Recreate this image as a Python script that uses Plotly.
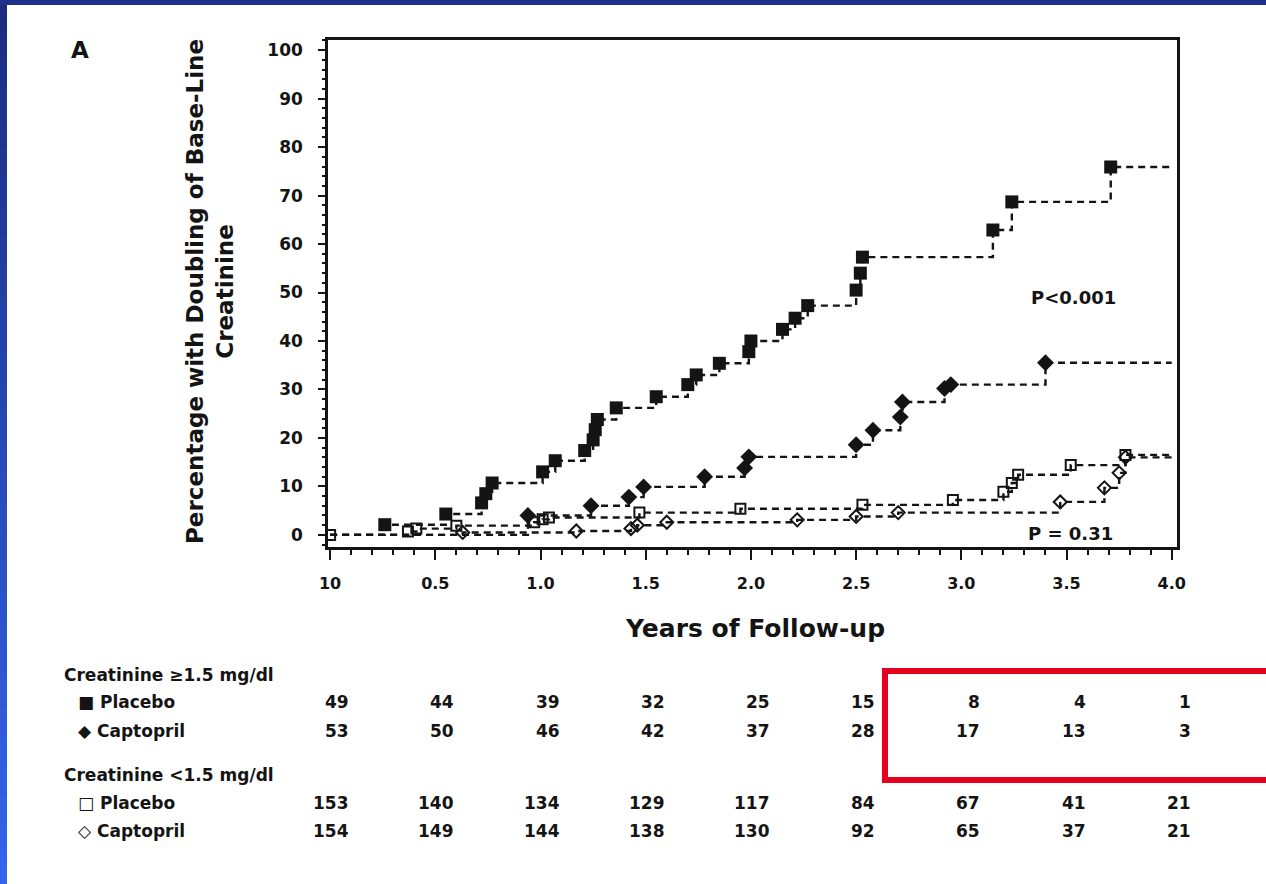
import plotly.graph_objects as go

# ---------------- data ----------------
FOLLOW_UP_END = 4.0

# Creatinine >= 1.5 mg/dl, placebo (filled squares)
ph_years = [0.26, 0.55, 0.72, 0.74, 0.77, 1.01, 1.07, 1.21, 1.25, 1.26, 1.27, 1.36, 1.55,
            1.70, 1.74, 1.85, 1.99, 2.00, 2.15, 2.21, 2.27, 2.50, 2.52, 2.53, 3.15, 3.24, 3.71]
ph_pct = [2.1, 4.3, 6.6, 8.5, 10.7, 13.0, 15.3, 17.4, 19.6, 21.7, 23.8, 26.2, 28.5,
          31.0, 33.0, 35.4, 37.8, 40.0, 42.4, 44.7, 47.3, 50.5, 54.0, 57.3, 62.9, 68.7, 75.9]

# Creatinine >= 1.5 mg/dl, captopril (filled diamonds)
ch_years = [0.94, 1.24, 1.42, 1.49, 1.78, 1.97, 1.99, 2.50, 2.58, 2.71, 2.72, 2.92, 2.95, 3.40]
ch_pct = [4.0, 6.0, 7.8, 9.9, 12.0, 13.8, 16.1, 18.6, 21.6, 24.3, 27.4, 30.2, 31.0, 35.5]

# Creatinine < 1.5 mg/dl, placebo (open squares)
pl_years = [0.00, 0.37, 0.41, 0.60, 0.97, 1.01, 1.04, 1.47, 1.95, 2.53, 2.96, 3.20, 3.24,
            3.27, 3.52, 3.78]
pl_pct = [0.0, 0.7, 1.3, 1.9, 2.6, 3.2, 3.6, 4.6, 5.4, 6.2, 7.2, 8.9, 10.7, 12.4, 14.4, 16.5]

# Creatinine < 1.5 mg/dl, captopril (open diamonds)
cl_years = [0.63, 1.17, 1.43, 1.46, 1.60, 2.22, 2.50, 2.70, 3.47, 3.68, 3.75, 3.78]
cl_pct = [0.5, 0.8, 1.3, 2.0, 2.6, 3.1, 3.8, 4.6, 6.8, 9.7, 12.8, 16.0]

# numbers at risk
risk_years = [0.0, 0.5, 1.0, 1.5, 2.0, 2.5, 3.0, 3.5, 4.0]
risk_ph = [49, 44, 39, 32, 25, 15, 8, 4, 1]
risk_ch = [53, 50, 46, 42, 37, 28, 17, 13, 3]
risk_pl = [153, 140, 134, 129, 117, 84, 67, 41, 21]
risk_cl = [154, 149, 144, 138, 130, 92, 65, 37, 21]

x_tickvals = [0.0, 0.5, 1.0, 1.5, 2.0, 2.5, 3.0, 3.5, 4.0]
x_ticktext = ["10", "0.5", "1.0", "1.5", "2.0", "2.5", "3.0", "3.5", "4.0"]
y_tickvals = [0, 10, 20, 30, 40, 50, 60, 70, 80, 90, 100]

# ---------------- layout helpers ----------------
W, H = 1266, 884
PL_L, PL_R, PL_T, PL_B = 328, 1177, 40, 547
FONT = "DejaVu Sans"
INK = "#141414"


def px(xp):
    return (xp - PL_L) / (PL_R - PL_L)


def py(yp):
    return (PL_B - yp) / (PL_B - PL_T)


def bold(size):
    return dict(family=FONT, size=size, color=INK, weight="bold")


def step_line(xs, ys):
    lx = list(xs)
    ly = list(ys)
    if lx[0] != 0:
        lx = [0.0] + lx
        ly = [0.0] + ly
    return lx + [FOLLOW_UP_END], ly + [ly[-1]]


fig = go.Figure()

series = [
    (ph_years, ph_pct, dict(symbol="square", size=13, color=INK)),
    (ch_years, ch_pct, dict(symbol="diamond", size=13, color=INK)),
    (pl_years, pl_pct, dict(symbol="square-open", size=10, color=INK, line=dict(width=2, color=INK))),
    (cl_years, cl_pct, dict(symbol="diamond-open", size=10, color=INK, line=dict(width=2, color=INK))),
]

for xs, ys, mk in series:
    lx, ly = step_line(xs, ys)
    fig.add_trace(go.Scatter(x=lx, y=ly, mode="lines", line_shape="hv",
                             line=dict(color=INK, width=2.4, dash="7px,5px"),
                             showlegend=False, hoverinfo="skip"))
    fig.add_trace(go.Scatter(x=xs, y=ys, mode="markers", marker=mk, showlegend=False))

annotations = []

# axis titles
annotations.append(dict(text="Percentage with Doubling of Base-Line<br>Creatinine",
                        xref="paper", yref="paper", x=px(210), y=py(292), textangle=-90,
                        showarrow=False, font=bold(23),
                        xanchor="center", yanchor="middle", align="center"))
annotations.append(dict(text="Years of Follow-up", xref="paper", yref="paper",
                        x=px(755), y=py(628), showarrow=False, font=bold(25),
                        xanchor="center", yanchor="middle"))
annotations.append(dict(text="A", xref="paper", yref="paper", x=px(80), y=py(50),
                        showarrow=False, font=bold(23),
                        xanchor="center", yanchor="middle"))
annotations.append(dict(text="P<0.001", xref="paper", yref="paper", x=px(1073), y=py(298),
                        showarrow=False, font=bold(18),
                        xanchor="center", yanchor="middle"))
annotations.append(dict(text="P = 0.31", xref="paper", yref="paper", x=px(1070), y=py(533),
                        showarrow=False, font=bold(18),
                        xanchor="center", yanchor="middle"))

# numbers-at-risk table
row_labels = [
    ("Creatinine ≥1.5 mg/dl", 62, 675),
    ("■ Placebo", 76, 702),
    ("◆ Captopril", 76, 731),
    ("Creatinine <1.5 mg/dl", 62, 775),
    ("□ Placebo", 76, 803),
    ("◇ Captopril", 76, 831),
]
for txt, xl, yl in row_labels:
    annotations.append(dict(text=txt, xref="paper", yref="paper", x=px(xl), y=py(yl),
                            showarrow=False, font=bold(17),
                            xanchor="left", yanchor="middle"))

for vals, yl in [(risk_ph, 702), (risk_ch, 731), (risk_pl, 803), (risk_cl, 831)]:
    for xv, v in zip(risk_years, vals):
        annotations.append(dict(text=str(v), xref="x", yref="paper", x=xv, y=py(yl),
                                xshift=21, showarrow=False, font=bold(17),
                                xanchor="right", yanchor="middle"))

shapes = []
# blue frame (left band with vertical gradient, top band)
n = 30
c_top = (27, 44, 128)
c_bot = (52, 100, 236)
for i in range(n):
    t = i / (n - 1)
    c = tuple(int(round(c_top[k] + (c_bot[k] - c_top[k]) * t)) for k in range(3))
    y0 = H * i / n
    y1 = H * (i + 1) / n + 1
    shapes.append(dict(type="rect", xref="paper", yref="paper",
                       x0=px(0), x1=px(7), y0=py(y0), y1=py(y1),
                       fillcolor="rgb(%d,%d,%d)" % c, line=dict(width=0), layer="above"))
shapes.append(dict(type="rect", xref="paper", yref="paper", x0=px(0), x1=px(W),
                   y0=py(0), y1=py(5), fillcolor="rgb(30,48,140)", line=dict(width=0),
                   layer="above"))
# red highlight box
shapes.append(dict(type="rect", xref="paper", yref="paper", x0=px(885), x1=px(1280),
                   y0=py(671), y1=py(780), line=dict(color="#e8001f", width=6),
                   fillcolor="rgba(0,0,0,0)", layer="above"))

fig.update_layout(
    width=W, height=H,
    margin=dict(l=PL_L, r=W - PL_R, t=PL_T, b=H - PL_B, autoexpand=False),
    paper_bgcolor="white", plot_bgcolor="white",
    font=dict(family=FONT, color=INK),
    showlegend=False,
    annotations=annotations,
    shapes=shapes,
    xaxis=dict(range=[-0.01, 4.025], tickvals=x_tickvals, ticktext=x_ticktext,
               ticks="outside", ticklen=10, tickwidth=2, tickcolor=INK,
               minor=dict(dtick=0.1, tick0=0, ticks="outside", ticklen=5, tickwidth=1.5,
                          tickcolor=INK, showgrid=False),
               showline=True, linewidth=2.5, linecolor=INK, mirror=True,
               showgrid=False, zeroline=False,
               tickfont=bold(16), ticklabelstandoff=10),
    yaxis=dict(range=[-2.5, 102.1], tickvals=y_tickvals,
               ticks="outside", ticklen=7, tickwidth=2, tickcolor=INK,
               minor=dict(dtick=2, tick0=0, ticks="outside", ticklen=3, tickwidth=1.5,
                          tickcolor=INK, showgrid=False),
               showline=True, linewidth=2.5, linecolor=INK, mirror=True,
               showgrid=False, zeroline=False,
               tickfont=bold(17), ticklabelstandoff=12),
)

fig.write_html("out.html", config={"displayModeBar": False},
               post_script="document.body.style.margin='0px';")
